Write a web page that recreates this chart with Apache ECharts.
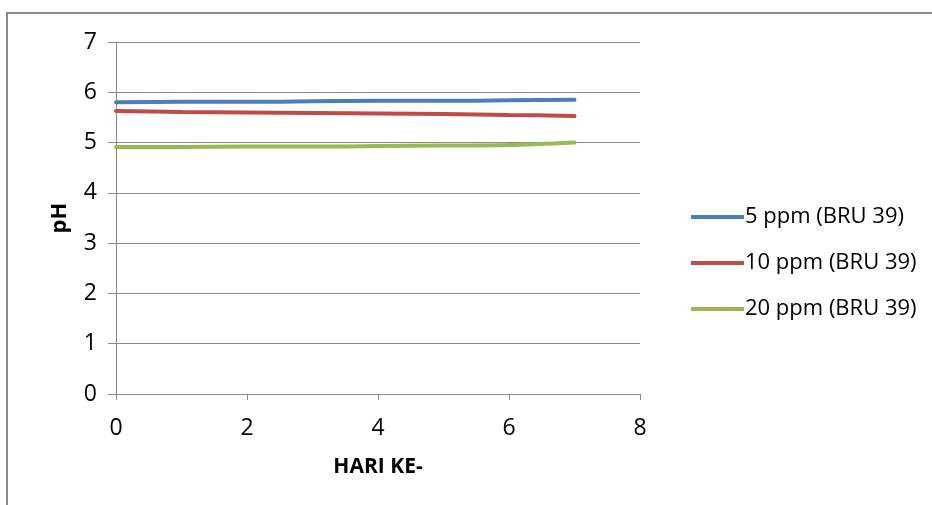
<!DOCTYPE html>
<html>
<head>
<meta charset="utf-8">
<script src="https://cdn.jsdelivr.net/npm/echarts@6/dist/echarts.min.js"></script>
<style>html,body{margin:0;padding:0;background:#fff}#c{width:932px;height:505px}</style>
</head>
<body>
<div id="c"></div>
<script>
const days = [0, 1, 2, 3, 4, 5, 6, 7];
const seriesNames = ['5 ppm (BRU 39)', '10 ppm (BRU 39)', '20 ppm (BRU 39)'];
const ph5 = [5.80, 5.81, 5.81, 5.82, 5.83, 5.83, 5.84, 5.85];
const ph10 = [5.63, 5.61, 5.60, 5.59, 5.58, 5.57, 5.55, 5.53];
const ph20 = [4.91, 4.91, 4.92, 4.92, 4.93, 4.94, 4.95, 5.00];
const colors = ['#4a7ebb', '#be4b48', '#98b954'];
const FONT = 'Open Sans';

const chart = echarts.init(document.getElementById('c'));
const mk = (name, vals, i) => ({
  name: name, type: 'line', smooth: 0.3, showSymbol: false,
  data: days.map((d, k) => [d, vals[k]]),
  lineStyle: {color: colors[i], width: 4, cap: 'round'},
  itemStyle: {color: colors[i]}
});
chart.setOption({
  animation: false,
  backgroundColor: '#fff',
  grid: {left: 116, right: 292, top: 42, bottom: 111, containLabel: false},
  graphic: [{
    type: 'rect', shape: {x: 7, y: 13, width: 1000, height: 600},
    style: {fill: 'none', stroke: '#8a8a8a', lineWidth: 2}, z: 100
  }],
  xAxis: {
    type: 'value', min: 0, max: 8, interval: 2,
    name: 'HARI KE-', nameLocation: 'middle', nameGap: 63,
    nameTextStyle: {fontFamily: FONT, fontWeight: 'bold', fontSize: 21, color: '#000'},
    axisLine: {show: true, lineStyle: {color: '#8a8a8a', width: 1}},
    axisTick: {show: true, length: 6, lineStyle: {color: '#8a8a8a'}},
    axisLabel: {fontFamily: FONT, fontSize: 23, color: '#000', margin: 23},
    splitLine: {show: false}
  },
  yAxis: {
    type: 'value', min: 0, max: 7, interval: 1,
    name: 'pH', nameLocation: 'middle', nameGap: 45,
    nameTextStyle: {fontFamily: FONT, fontWeight: 'bold', fontSize: 22, color: '#000'},
    axisLine: {show: true, lineStyle: {color: '#8a8a8a', width: 1}},
    axisTick: {show: true, length: 8, lineStyle: {color: '#8a8a8a'}},
    axisLabel: {fontFamily: FONT, fontSize: 23, color: '#000', margin: 19},
    splitLine: {show: true, lineStyle: {color: '#8a8a8a', width: 1}}
  },
  legend: {
    orient: 'vertical', left: 686, top: 198, itemGap: 18,
    itemWidth: 53, itemHeight: 4, icon: 'rect',
    data: seriesNames,
    textStyle: {fontFamily: FONT, fontSize: 22, color: '#000', padding: [0, 0, 0, -4], lineHeight: 28}
  },
  series: [mk(seriesNames[0], ph5, 0), mk(seriesNames[1], ph10, 1), mk(seriesNames[2], ph20, 2)]
});
</script>
</body>
</html>
